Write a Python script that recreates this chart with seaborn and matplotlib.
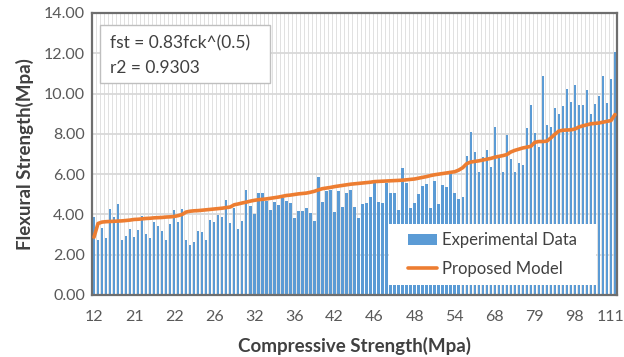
import matplotlib
matplotlib.use("Agg")
import matplotlib.pyplot as plt
import matplotlib.transforms as mtransforms
from matplotlib.patches import Rectangle, Patch
from matplotlib.lines import Line2D
import numpy as np
import pandas as pd
import seaborn as sns

# Compressive strength (MPa) shown under every 10th sample
tick_fck = [12, 21, 22, 26, 32, 36, 42, 46, 48, 54, 68, 79, 98, 111]

# Measured flexural strength (MPa), samples sorted by compressive strength
flexural_exp = [
    3.87, 2.72, 3.35, 2.85, 4.27, 3.88, 4.50, 2.74, 2.95, 3.30,
    2.90, 3.25, 3.90, 3.05, 2.82, 3.60, 3.43, 3.18, 2.72, 3.53,
    4.22, 3.60, 4.28, 2.75, 2.50, 2.62, 3.18, 3.15, 2.74, 3.74,
    3.60, 3.98, 3.86, 4.74, 3.57, 4.33, 3.28, 3.66, 5.22, 4.44,
    4.02, 5.04, 5.04, 4.66, 4.24, 4.62, 4.45, 4.83, 4.66, 4.57,
    3.82, 4.18, 4.15, 4.31, 4.07, 3.65, 5.88, 4.63, 5.18, 5.21,
    4.14, 5.18, 4.35, 5.08, 5.21, 4.35, 3.84, 4.52, 4.55, 4.85,
    5.55, 4.63, 4.55, 5.58, 5.08, 5.08, 4.20, 6.29, 5.55, 4.30,
    4.55, 5.00, 5.41, 5.51, 4.30, 5.66, 4.50, 5.45, 5.35, 6.00,
    5.05, 4.75, 4.85, 6.92, 8.11, 7.08, 6.12, 6.85, 7.18, 6.37,
    8.36, 6.80, 6.12, 7.96, 6.75, 6.12, 6.54, 6.45, 8.28, 9.43,
    8.03, 7.36, 10.88, 8.46, 8.32, 9.27, 8.99, 9.38, 10.21, 9.60,
    10.44, 9.43, 9.43, 10.18, 9.00, 9.50, 9.86, 10.87, 9.52, 10.71,
    12.07,
]

# Proposed model fst = 0.83 fck^0.5 for the same samples (MPa)
flexural_model = [
    2.87, 3.55, 3.62, 3.64, 3.65, 3.66, 3.67, 3.68, 3.70, 3.72,
    3.75, 3.76, 3.78, 3.80, 3.81, 3.83, 3.84, 3.85, 3.87, 3.88,
    3.90, 3.94, 4.00, 4.12, 4.16, 4.18, 4.19, 4.21, 4.23, 4.25,
    4.27, 4.29, 4.31, 4.34, 4.37, 4.48, 4.52, 4.57, 4.61, 4.66,
    4.70, 4.73, 4.75, 4.77, 4.80, 4.83, 4.86, 4.90, 4.94, 4.96,
    4.99, 5.02, 5.04, 5.06, 5.10, 5.15, 5.22, 5.28, 5.31, 5.34,
    5.38, 5.41, 5.44, 5.47, 5.50, 5.52, 5.54, 5.56, 5.58, 5.60,
    5.63, 5.64, 5.65, 5.66, 5.67, 5.68, 5.69, 5.70, 5.72, 5.74,
    5.76, 5.80, 5.84, 5.88, 5.93, 5.97, 6.00, 6.03, 6.06, 6.09,
    6.12, 6.20, 6.32, 6.52, 6.60, 6.63, 6.66, 6.70, 6.74, 6.78,
    6.84, 6.88, 6.92, 6.97, 7.10, 7.18, 7.24, 7.30, 7.34, 7.38,
    7.58, 7.62, 7.62, 7.64, 7.80, 7.98, 8.14, 8.18, 8.19, 8.20,
    8.24, 8.34, 8.40, 8.45, 8.50, 8.52, 8.54, 8.58, 8.62, 8.66,
    8.96,
]

BLUE = "#5b9bd5"
ORANGE = "#ed7d31"
TXT = "#404040"

sns.set_theme(style="white")
plt.rcParams["font.family"] = ["Lato", "DejaVu Sans"]

n = len(flexural_exp)
df = pd.DataFrame({
    "sample": np.arange(n),
    "exp": flexural_exp,
    "model": flexural_model,
})

fig = plt.figure(figsize=(6.24, 3.57), dpi=100)
ax = fig.add_axes([92 / 624, 1 - 295 / 357, 525 / 624, 282 / 357])
ax.set_facecolor("white")

sns.barplot(data=df, x="sample", y="exp", color=BLUE, width=0.6,
            saturation=1, linewidth=0, edgecolor="none", ax=ax, zorder=2)
sns.lineplot(data=df, x="sample", y="model", color=ORANGE, linewidth=2.6,
             ax=ax, zorder=4)

ax.set_xlim(-0.5, n - 0.5)
ax.set_ylim(0, 14)

# category gridlines between samples, value gridlines every 2 MPa
ax.set_xticks(np.arange(-0.5, n, 1.0), minor=True)
ax.grid(which="minor", axis="x", color="#dcdcdc", linewidth=0.6, zorder=0)
ax.set_yticks(np.arange(0, 14.01, 2))
ax.grid(which="major", axis="y", color="#d9d9d9", linewidth=1.3, zorder=1)
ax.set_axisbelow(True)

ax.set_xticks(np.arange(0, n, 10))
ax.set_xticklabels([str(v) for v in tick_fck])
ax.set_yticklabels([f"{v:.2f}" for v in np.arange(0, 14.01, 2)])
ax.tick_params(axis="both", which="both", length=0, labelsize=11.5,
               colors="#595959")
ax.tick_params(axis="x", pad=11)
ax.tick_params(axis="y", pad=5)

# keep the last category label inside the canvas
last = ax.get_xticklabels()[-1]
last.set_transform(last.get_transform() +
                   mtransforms.ScaledTranslation(-4 / 100, 0, fig.dpi_scale_trans))

for s in ax.spines.values():
    s.set_visible(True)
    s.set_color("#6e6e6e")
    s.set_linewidth(1.6)

ax.set_xlabel("Compressive Strength(Mpa)", fontsize=13.5, fontweight="bold",
              color=TXT, labelpad=9)
ax.set_ylabel("Flexural Strength(Mpa)", fontsize=13.5, fontweight="bold",
              color=TXT, labelpad=7)

# equation box
ax.add_patch(Rectangle((0.015, 0.752), 0.324, 0.205, transform=ax.transAxes,
                       facecolor="white", edgecolor="#bfbfbf", linewidth=1.0,
                       zorder=5))
ax.text(0.034, 0.894, "fst = 0.83fck^(0.5)", transform=ax.transAxes,
        fontsize=12.5, color=TXT, va="center", ha="left", zorder=6)
ax.text(0.034, 0.805, "r2 = 0.9303", transform=ax.transAxes,
        fontsize=12.5, color=TXT, va="center", ha="left", zorder=6)

# legend panel
ax.add_patch(Rectangle((0.566, 0.035), 0.394, 0.217, transform=ax.transAxes,
                       facecolor="white", edgecolor="none", zorder=5))
handles = [Patch(facecolor=BLUE, edgecolor="none"),
           Line2D([0], [0], color=ORANGE, linewidth=2.6)]
leg = ax.legend(handles, ["Experimental Data", "Proposed Model"],
                loc="center", bbox_to_anchor=(0.763, 0.1435),
                frameon=False, fontsize=12, handlelength=1.7,
                handletextpad=0.3, labelspacing=0.75)
leg.set_zorder(6)
for t in leg.get_texts():
    t.set_color(TXT)

fig.savefig("out.png", dpi=100)
